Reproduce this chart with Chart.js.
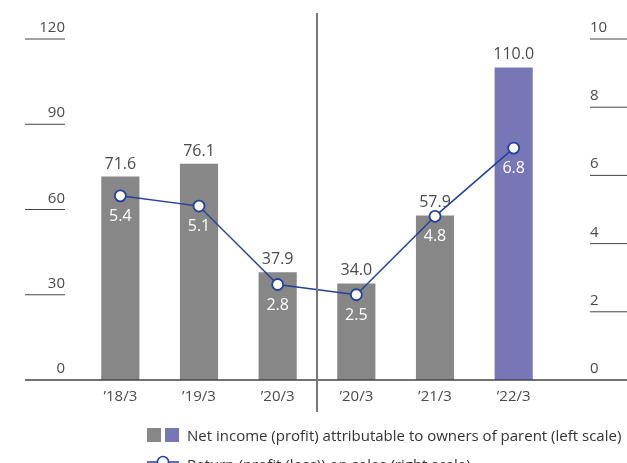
<!DOCTYPE html>
<html>
<head>
<meta charset="utf-8">
<script src="https://cdn.jsdelivr.net/npm/chart.js@4/dist/chart.umd.min.js"></script>
<style>
  html, body { margin: 0; padding: 0; background: #fff; }
  #wrap { position: relative; width: 627px; height: 463px; overflow: hidden; }
</style>
</head>
<body>
<div id="wrap"><canvas id="netIncomeChart" width="627" height="463"></canvas></div>
<script>
const periods = ['\u201918/3', '\u201919/3', '\u201920/3', '\u201920/3', '\u201921/3', '\u201922/3'];
const netIncome = [71.6, 76.1, 37.9, 34.0, 57.9, 110.0];
const returnOnSales = [5.4, 5.1, 2.8, 2.5, 4.8, 6.8];
const leftTicks = [0, 30, 60, 90, 120];
const rightTicks = [0, 2, 4, 6, 8, 10];

const barColors = ['#878787', '#878787', '#878787', '#878787', '#878787', '#7776b7'];
const lineColor = '#23409a';
const textColor = '#4a4a4a';
const FONT = '"Open Sans", "Noto Sans", sans-serif';

// axes, value labels, divider and legend are drawn by hand
const decorations = {
  id: 'decorations',
  afterDatasetsDraw(chart) {
    const ctx = chart.ctx;
    const yL = chart.scales.yL, yR = chart.scales.yR, x = chart.scales.x;
    ctx.save();

    // baseline
    ctx.strokeStyle = '#444';
    ctx.lineWidth = 1.5;
    ctx.beginPath();
    ctx.moveTo(25, yL.getPixelForValue(0));
    ctx.lineTo(627, yL.getPixelForValue(0));
    ctx.stroke();

    ctx.font = '15px ' + FONT;
    ctx.fillStyle = textColor;
    ctx.textBaseline = 'alphabetic';

    // left scale
    ctx.textAlign = 'right';
    leftTicks.forEach(v => {
      const py = yL.getPixelForValue(v);
      ctx.fillText(String(v), 65, py - 7);
      if (v > 0) {
        ctx.lineWidth = 1;
        ctx.beginPath();
        ctx.moveTo(25, py);
        ctx.lineTo(65, py);
        ctx.stroke();
      }
    });

    // right scale
    ctx.textAlign = 'left';
    rightTicks.forEach(v => {
      const py = yR.getPixelForValue(v);
      ctx.fillText(String(v), 590, py - 7);
      if (v > 0) {
        ctx.lineWidth = 1;
        ctx.beginPath();
        ctx.moveTo(590, py);
        ctx.lineTo(627, py);
        ctx.stroke();
      }
    });

    // category labels
    ctx.textAlign = 'center';
    periods.forEach((p, i) => {
      ctx.fillText(p, x.getPixelForValue(i), 401);
    });

    // divider between the two fiscal bases
    const dx = (x.getPixelForValue(2) + x.getPixelForValue(3)) / 2;
    ctx.strokeStyle = '#777';
    ctx.lineWidth = 2;
    ctx.beginPath();
    ctx.moveTo(dx, 13);
    ctx.lineTo(dx, 412);
    ctx.stroke();

    // bar values
    ctx.font = '16px ' + FONT;
    const bars = chart.getDatasetMeta(0).data;
    ctx.fillStyle = textColor;
    bars.forEach((b, i) => {
      ctx.fillText(netIncome[i].toFixed(1), b.x, b.y - 8);
    });

    // ratio values
    const pts = chart.getDatasetMeta(1).data;
    ctx.fillStyle = '#fff';
    pts.forEach((p, i) => {
      ctx.fillText(returnOnSales[i].toFixed(1), p.x, p.y + 25);
    });

    // legend
    ctx.fillStyle = '#878787';
    ctx.fillRect(147, 428, 14, 14);
    ctx.fillStyle = '#7776b7';
    ctx.fillRect(165, 428, 14, 14);
    ctx.fillStyle = '#333';
    ctx.textAlign = 'left';
    ctx.font = '15px ' + FONT;
    ctx.fillText('Net income (profit) attributable to owners of parent (left scale)', 187, 441);
    ctx.fillText('Return (profit (loss)) on sales (right scale)', 187, 470);

    ctx.strokeStyle = lineColor;
    ctx.lineWidth = 1.5;
    ctx.beginPath();
    ctx.moveTo(147, 462);
    ctx.lineTo(179, 462);
    ctx.stroke();
    ctx.fillStyle = '#fff';
    ctx.beginPath();
    ctx.arc(163, 462, 5.5, 0, Math.PI * 2);
    ctx.fill();
    ctx.stroke();

    ctx.restore();
  }
};

new Chart(document.getElementById('netIncomeChart'), {
  data: {
    labels: periods,
    datasets: [
      {
        type: 'bar',
        data: netIncome,
        yAxisID: 'yL',
        backgroundColor: barColors,
        barPercentage: 0.97,
        categoryPercentage: 0.5,
        order: 2
      },
      {
        type: 'line',
        data: returnOnSales,
        yAxisID: 'yR',
        borderColor: lineColor,
        borderWidth: 1.5,
        pointRadius: 5.5,
        pointBorderWidth: 1.8,
        pointBackgroundColor: '#fff',
        pointBorderColor: lineColor,
        tension: 0,
        order: 1
      }
    ]
  },
  options: {
    responsive: false,
    animation: false,
    layout: { padding: { left: 81, right: 74, top: 39, bottom: 83 } },
    plugins: { legend: { display: false }, tooltip: { enabled: false } },
    scales: {
      x: { display: false, offset: true },
      yL: { display: false, position: 'left', min: 0, max: 120 },
      yR: { display: false, position: 'right', min: 0, max: 10 }
    }
  },
  plugins: [decorations]
});
</script>
</body>
</html>
